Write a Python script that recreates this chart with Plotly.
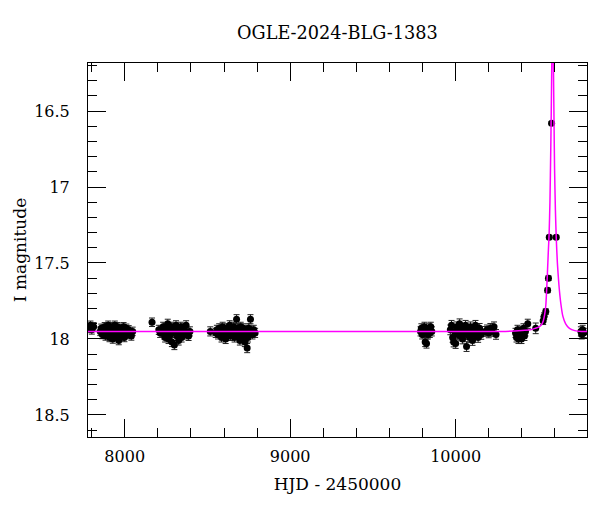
import plotly.graph_objects as go

# ---- data (HJD - 2450000, I mag) ----
t_2017 = [7786, 7793, 7801, 7812, 7852, 7858, 7864, 7869, 7874, 7879, 7884, 7888, 7892, 7896,
          7900, 7904, 7908, 7912, 7916, 7920, 7924, 7928, 7932, 7936, 7940, 7944, 7948, 7952,
          7956, 7960, 7964, 7968, 7973, 7978, 7983, 7988, 7993, 7998, 8004, 8010, 8017, 8024,
          8032, 8040, 8048, 8165]
m_2017 = [17.93, 17.91, 17.94, 17.92, 17.95, 17.93, 17.97, 17.94, 17.96, 17.92, 17.98, 17.95,
          17.93, 17.97, 17.91, 17.96, 17.99, 17.94, 17.92, 17.97, 17.95, 18.00, 17.93, 17.96,
          17.91, 17.98, 17.94, 17.96, 17.92, 17.97, 18.01, 17.95, 17.93, 17.98, 17.94, 17.96,
          17.92, 17.99, 17.95, 17.93, 17.97, 17.94, 17.96, 17.98, 17.95, 17.89]
err_2017 = 0.028

t_2018 = [8206, 8214, 8224, 8232, 8238, 8244, 8250, 8255, 8260, 8265, 8270, 8275, 8280, 8285,
          8290, 8295, 8300, 8305, 8310, 8315, 8320, 8326, 8332, 8338, 8344, 8350, 8357, 8364,
          8371, 8378, 8386, 8394]
m_2018 = [17.94, 17.96, 17.95, 17.92, 17.97, 17.99, 17.93, 17.96, 17.90, 18.00, 17.94, 17.97,
          17.92, 18.02, 17.95, 17.93, 18.04, 17.96, 17.91, 17.98, 17.94, 18.01, 17.96, 17.92,
          17.99, 17.95, 17.93, 17.97, 17.91, 17.96, 17.98, 17.95]
err_2018 = 0.03

t_2019 = [8517, 8550, 8557, 8564, 8571, 8578, 8585, 8592, 8598, 8604, 8610, 8616, 8622, 8628,
          8634, 8640, 8646, 8652, 8658, 8664, 8670, 8676, 8681, 8686, 8691, 8696, 8701, 8706,
          8711, 8716, 8721, 8726, 8731, 8736, 8740, 8745, 8750, 8755, 8760, 8766, 8772, 8780,
          8788]
m_2019 = [17.95, 17.96, 17.94, 17.97, 17.93, 17.95, 17.99, 17.92, 17.96, 17.94, 18.00, 17.93,
          17.97, 17.95, 17.91, 17.98, 17.94, 17.96, 17.92, 17.99, 17.95, 17.87, 17.93, 17.97,
          17.94, 18.01, 17.92, 17.96, 17.98, 17.93, 17.95, 18.02, 17.97, 17.94, 18.06, 17.99,
          17.93, 17.96, 17.87, 17.95, 17.97, 17.94, 17.96]
err_2019 = 0.03

t_2021 = [9788, 9793, 9798, 9803, 9808, 9812, 9816, 9820, 9824, 9828, 9833, 9838, 9844, 9850, 9856]
m_2021 = [17.95, 17.93, 17.97, 17.94, 17.96, 17.92, 18.02, 17.95, 18.03, 17.94, 17.97, 17.93,
          17.96, 17.92, 17.95]
err_2021 = 0.03

t_2022 = [9968, 9975, 9982, 9988, 9994, 10000, 10006, 10012, 10018, 10024, 10030, 10036, 10042,
          10048, 10054, 10060, 10066, 10072, 10078, 10084, 10090, 10096, 10102, 10108, 10114,
          10120, 10128, 10136, 10145, 10155, 10180, 10190, 10200, 10210, 10220, 10232, 10244]
m_2022 = [17.94, 17.91, 17.99, 18.02, 17.95, 18.03, 17.92, 17.97, 17.94, 17.90, 17.98, 17.95,
          18.00, 17.93, 17.96, 17.91, 18.05, 17.97, 17.94, 17.99, 17.92, 17.96, 18.01, 17.94,
          17.97, 17.91, 17.95, 17.99, 17.93, 17.97, 17.95, 17.94, 17.96, 17.93, 17.95, 17.92,
          17.97]
err_2022 = 0.032

t_2024 = [10362, 10368, 10374, 10380, 10386, 10392, 10398, 10404, 10410, 10416, 10422, 10436,
          10484, 10529, 10535, 10545, 10556, 10561, 10566, 10580, 10608, 10757, 10762, 10768,
          10775]
m_2024 = [17.96, 17.99, 17.94, 18.00, 17.97, 17.95, 18.00, 17.96, 17.93, 17.98, 17.95, 17.90,
          17.93, 17.88, 17.85, 17.82, 17.68, 17.60, 17.33, 16.58, 17.33, 17.95, 17.97, 17.94,
          17.96]
err_2024 = [0.03, 0.03, 0.03, 0.03, 0.03, 0.03, 0.03, 0.03, 0.03, 0.03, 0.03, 0.03,
            0.035, 0.025, 0.022, 0.018, 0.015, 0.015, 0.012, 0.01, 0.012, 0.03, 0.03, 0.03,
            0.03]

# model light curve (magenta)
model_t = [7777, 10300, 10400, 10450, 10480, 10505, 10520, 10530, 10538, 10545, 10550, 10555,
           10560, 10565, 10570, 10575, 10578, 10581, 10584, 10586, 10589, 10592, 10595, 10598,
           10603, 10608, 10615, 10624, 10635, 10648, 10665, 10688, 10720, 10760, 10794]
model_m = [17.95, 17.95, 17.945, 17.94, 17.93, 17.92, 17.905, 17.88, 17.84, 17.78, 17.68, 17.56,
           17.43, 17.31, 17.10, 16.75, 16.50, 16.20, 15.90, 15.80, 15.95, 16.30, 16.60, 16.88,
           17.15, 17.33, 17.50, 17.64, 17.76, 17.85, 17.90, 17.93, 17.945, 17.95, 17.95]

title_text = "OGLE-2024-BLG-1383"
x_title = "HJD - 2450000"
y_title = "I magnitude"
x_range = [7778, 10794]
x_tickvals = [8000, 9000, 10000]
x_ticktext = ["8000", "9000", "10000"]
y_range = [18.645, 16.184]
y_tickvals = [16.5, 17, 17.5, 18, 18.5]
y_ticktext = ["16.5", "17", "17.5", "18", "18.5"]

FONT = "DejaVu Serif"

fig = go.Figure()

seasons = [(t_2017, m_2017, err_2017), (t_2018, m_2018, err_2018), (t_2019, m_2019, err_2019),
           (t_2021, m_2021, err_2021), (t_2022, m_2022, err_2022), (t_2024, m_2024, err_2024)]
for t, m, e in seasons:
    err = dict(type="data", array=e if isinstance(e, list) else [e] * len(t),
               visible=True, color="#222222", thickness=1, width=3)
    fig.add_trace(go.Scatter(x=t, y=m, mode="markers", error_y=err,
                             marker=dict(color="black", size=7, symbol="circle"),
                             showlegend=False, hoverinfo="x+y"))

fig.add_trace(go.Scatter(x=model_t, y=model_m, mode="lines",
                         line=dict(color="#FF00FF", width=1.5, shape="spline", smoothing=0.6),
                         showlegend=False))

axis_common = dict(showline=True, linecolor="black", linewidth=1, mirror="allticks",
                   ticks="inside", ticklen=18, tickcolor="black", tickwidth=1,
                   showgrid=False, zeroline=False, automargin=False,
                   tickfont=dict(family=FONT, size=16, color="black"))

fig.update_xaxes(range=x_range, tickvals=x_tickvals, ticktext=x_ticktext, ticklabelstandoff=5,
                 minor=dict(ticks="inside", ticklen=9, dtick=200, tick0=8000,
                            tickcolor="black", showgrid=False),
                 title=dict(text=x_title, font=dict(family=FONT, size=17, color="black"),
                            standoff=12),
                 **axis_common)
fig.update_yaxes(range=y_range, tickvals=y_tickvals, ticktext=y_ticktext,
                 ticklabelstandoff=14,
                 minor=dict(ticks="inside", ticklen=9, dtick=0.1, tick0=16.5,
                            tickcolor="black", showgrid=False),
                 title=dict(text=y_title, font=dict(family=FONT, size=17, color="black"),
                            standoff=3),
                 **axis_common)

fig.update_layout(
    width=600, height=512,
    margin=dict(l=80, r=21, t=55, b=83),
    paper_bgcolor="white", plot_bgcolor="white",
    title=dict(text=title_text, x=0.549, xanchor="center", y=1 - 25 / 512, yanchor="middle",
               font=dict(family=FONT, size=17.7, color="black")),
)

fig.write_html("out.html")
